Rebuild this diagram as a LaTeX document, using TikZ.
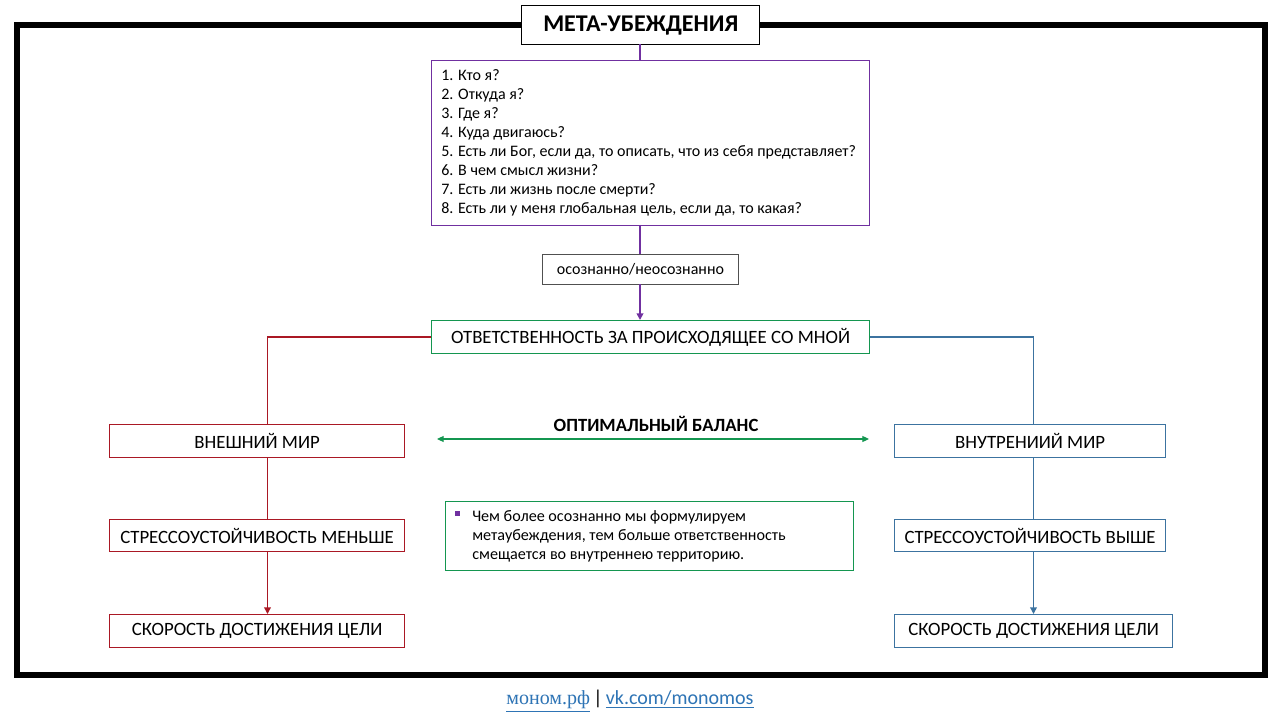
\documentclass[tikz,border=0pt]{standalone}
\usepackage{fontspec}
\setmainfont{Carlito}
\usetikzlibrary{arrows.meta}
\definecolor{cpurple}{RGB}{112,48,160}
\definecolor{cred}{RGB}{170,24,36}
\definecolor{cblue}{RGB}{60,115,160}
\definecolor{cgreen}{RGB}{20,150,80}
\definecolor{cgray}{RGB}{80,80,80}
\definecolor{clink}{RGB}{46,116,181}
\begin{document}
\begin{tikzpicture}[x=0.75pt,y=-0.75pt,
  box/.style={draw,line width=0.9pt,fill=white,inner sep=0pt,anchor=north west,font=\fontsize{14.1}{16}\selectfont},
  redbox/.style={box,draw=cred},
  bluebox/.style={box,draw=cblue},
  conn/.style={line width=1pt},
  tip/.style={-{Triangle[length=5pt,width=5pt]}}]
\useasboundingbox (0,0) rectangle (1280,720);
\fill[white] (0,0) rectangle (1280,720);
% frame
\draw[line width=5.2pt] (17,25) rectangle (1265,675);
% title
\node[box,draw=black,line width=1.1pt,minimum width=238*0.75pt,minimum height=39*0.75pt,font=\fontsize{18}{20}\selectfont\bfseries] (title) at (521,5) {МЕТА-УБЕЖДЕНИЯ};
% questions
\node[box,draw=cpurple,minimum width=438*0.75pt,minimum height=165*0.75pt] (q) at (431,60) {};
\node[anchor=north west,inner sep=0pt,align=left,font=\fontsize{12}{14.25}\selectfont] (qt) at (441,69) {1. Кто я?\\2. Откуда я?\\3. Где я?\\4. Куда двигаюсь?\\5. Есть ли Бог, если да, то описать, что из себя представляет?\\6. В чем смысл жизни?\\7. Есть ли жизнь после смерти?\\8. Есть ли у меня глобальная цель, если да, то какая?};
% conscious box
\node[box,draw=cgray,line width=0.7pt,minimum width=196*0.75pt,minimum height=30*0.75pt,font=\fontsize{12}{14}\selectfont] (os) at (542,254) {осознанно/неосознанно};
% responsibility
\node[box,draw=cgreen,minimum width=438*0.75pt,minimum height=33*0.75pt] (resp) at (431,320) {ОТВЕТСТВЕННОСТЬ ЗА ПРОИСХОДЯЩЕЕ СО МНОЙ};
% left column
\node[redbox,minimum width=295*0.75pt,minimum height=33*0.75pt] (ext) at (109,424) {ВНЕШНИЙ МИР};
\node[redbox,minimum width=295*0.75pt,minimum height=32*0.75pt] (sl) at (109,519) {СТРЕССОУСТОЙЧИВОСТЬ МЕНЬШЕ};
\node[redbox,minimum width=295*0.75pt,minimum height=33*0.75pt] (vl) at (109,614) {СКОРОСТЬ ДОСТИЖЕНИЯ ЦЕЛИ};
% right column
\node[bluebox,minimum width=271*0.75pt,minimum height=33*0.75pt] (int) at (894,424) {ВНУТРЕНИИЙ МИР};
\node[bluebox,minimum width=271*0.75pt,minimum height=32*0.75pt] (sr) at (894,519) {СТРЕССОУСТОЙЧИВОСТЬ ВЫШЕ};
\node[bluebox,minimum width=278*0.75pt,minimum height=33*0.75pt] (vr) at (894,614) {СКОРОСТЬ ДОСТИЖЕНИЯ ЦЕЛИ};
% balance
\node[inner sep=0pt,font=\fontsize{14}{16}\selectfont\bfseries] (bal) at (656,424) {ОПТИМАЛЬНЫЙ БАЛАНС};
\coordinate (bl) at (437,439);
\coordinate (br) at (869,439);
\draw[cgreen,line width=0.8pt,{Triangle[length=5pt,width=4.5pt]}-{Triangle[length=5pt,width=4.5pt]}] (bl) -- (br);
% note
\node[box,draw=cgreen,minimum width=408*0.75pt,minimum height=69*0.75pt] (note) at (445,501) {};
\fill[cpurple] (455,511) rectangle (460,516);
\node[anchor=north west,inner sep=0pt,align=left,font=\fontsize{12.1}{14.25}\selectfont] (nt) at (472,510) {Чем более осознанно мы формулируем\\метаубеждения, тем больше ответственность\\смещается во внутреннею территорию.};
% connectors
\coordinate (a0) at (640,44);
\coordinate (a1) at (640,60);
\coordinate (a2) at (640,225);
\coordinate (a3) at (640,254);
\coordinate (a4) at (640,284);
\coordinate (a5) at (640,320);
\draw[cpurple,line width=1.4pt] (a0) -- (a1);
\draw[cpurple,line width=1.4pt] (a2) -- (a3);
\draw[cpurple,line width=1.4pt,tip] (a4) -- (a5);
\draw[cred,conn] (resp.west) -| (267.5,424);
\draw[cred,conn] (267.5,457) -- (267.5,519);
\draw[cred,conn,tip] (267.5,551) -- (267.5,614);
\draw[cblue,conn] (resp.east) -| (1033.5,424);
\draw[cblue,conn] (1033.5,457) -- (1033.5,519);
\draw[cblue,conn,tip] (1033.5,551) -- (1033.5,614);
% footer
\node[inner sep=0pt,font=\fontsize{15}{17}\selectfont] (foot) at (630,701) {\textcolor{clink}{\setbox0\hbox{\fontspec{Liberation Serif}моном.рф}\underline{\box0}}\,|\,\textcolor{clink}{\underline{vk.com/monomos}}};
\end{tikzpicture}
\end{document}
